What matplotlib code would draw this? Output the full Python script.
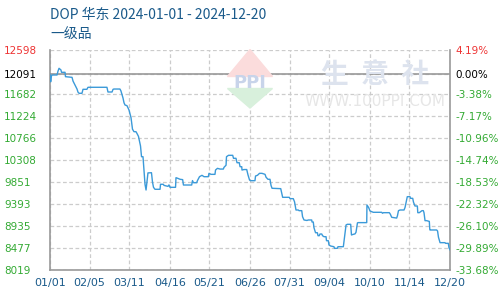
import matplotlib
matplotlib.use("Agg")
import matplotlib.pyplot as plt
from matplotlib.patches import Polygon

plt.rcParams['font.family'] = ['DejaVu Sans', 'Noto Sans CJK SC']

# ------------------------------
# data (days since 2024-01-01, price)
# ------------------------------
days = [0, 0.6, 1.3, 1.8, 6.2, 7.1, 8.0, 8.9, 9.7, 10.2, 13.3, 13.7, 19.5, 20.4,
        22.1, 23.9, 24.8, 25.7, 28.3, 29.2, 32.7, 33.6, 50.4, 51.3, 54.9, 55.8,
        56.6, 61.9, 62.8, 64.6, 65.5, 66.4, 68.1, 69.9, 71.7, 73.0, 74.3, 76.1,
        77.0, 78.3, 80.1, 81.0, 82.3, 83.2, 84.1, 85.0, 85.8, 86.7, 89.8, 90.7,
        91.6, 92.9, 97.4, 97.8, 100.3, 100.9, 104.4, 105.3, 106.2, 111.1, 111.5,
        112.8, 115.1, 117.4, 118.1, 125.4, 126.1, 127.0, 129.8, 130.5, 132.3,
        134.5, 136.3, 140.1, 140.7, 142.5, 146.0, 146.5, 148.2, 150.5, 153.4,
        154.0, 155.8, 156.2, 158.0, 161.7, 162.4, 164.6, 165.5, 167.5, 168.2,
        169.7, 169.9, 171.7, 174.1, 175.2, 176.6, 177.6, 181.4, 181.9, 183.6,
        185.4, 187.6, 190.3, 191.2, 192.9, 194.7, 195.6, 196.5, 204.2, 204.9,
        205.9, 211.8, 212.4, 215.3, 216.4, 217.7, 219.7, 220.4, 222.8, 223.5,
        224.8, 227.4, 228.6, 231.6, 231.9, 233.0, 233.6, 235.0, 236.6, 237.2,
        238.3, 238.9, 240.5, 241.2, 242.5, 244.3, 244.7, 246.3, 246.9, 248.4,
        251.3, 251.8, 254.3, 254.9, 259.6, 260.6, 262.0, 263.1, 266.1, 266.8,
        268.2, 269.9, 270.8, 272.1, 272.8, 280.3, 280.5, 281.7, 282.3, 283.2,
        286.1, 293.5, 294.3, 295.0, 300.3, 301.2, 302.4, 306.8, 307.5, 308.4,
        309.8, 313.3, 314.2, 315.1, 316.2, 318.6, 319.0, 321.0, 321.7, 323.0,
        325.1, 325.5, 326.8, 328.3, 329.2, 330.4, 331.0, 331.9, 333.4, 335.7,
        336.1, 336.3, 342.2, 343.0, 343.8, 345.2, 349.6, 350.0, 352.5, 353.1,
        354]
prices = [12091, 11938, 12060, 12078, 12078, 12160, 12217, 12200, 12182, 12134,
          12134, 12043, 12029, 11950, 11870, 11786, 11720, 11697, 11697, 11780,
          11780, 11822, 11822, 11724, 11724, 11780, 11786, 11786, 11745, 11600,
          11500, 11453, 11440, 11350, 11190, 10950, 10898, 10898, 10860, 10800,
          10600, 10377, 10377, 10100, 9800, 9684, 9850, 10040, 10044, 9850,
          9740, 9699, 9699, 9803, 9803, 9780, 9760, 9790, 9740, 9740, 9940,
          9930, 9907, 9900, 9788, 9788, 9880, 9836, 9836, 9880, 9961, 9990,
          9961, 9961, 10031, 10010, 10010, 10100, 10135, 10120, 10120, 10156,
          10200, 10377, 10406, 10406, 10344, 10344, 10252, 10252, 10169, 10169,
          10100, 10110, 10110, 10000, 9892, 9878, 9878, 9976, 9990, 10031,
          10031, 10010, 9950, 9907, 9907, 9780, 9720, 9712, 9640, 9532, 9532,
          9504, 9504, 9440, 9268, 9268, 9254, 9254, 9129, 9060, 9050, 9060,
          9060, 9018, 9018, 8900, 8795, 8795, 8733, 8733, 8768, 8768, 8733,
          8712, 8712, 8629, 8629, 8539, 8518, 8504, 8470, 8470, 8504, 8504,
          8700, 8956, 8970, 8970, 8748, 8760, 8770, 8803, 9000, 9005, 9005,
          9372, 9330, 9303, 9247, 9220, 9220, 9200, 9212, 9212, 9180, 9116,
          9100, 9150, 9254, 9268, 9268, 9320, 9420, 9545, 9545, 9511, 9511,
          9430, 9351, 9351, 9212, 9212, 9240, 9254, 9254, 9210, 9046, 9046,
          9030, 8866, 8852, 8852, 8830, 8700, 8588, 8588, 8574, 8574, 8480,
          8440]

base = 12091
y_ticks = [8019, 8477, 8935, 9393, 9851, 10308, 10766, 11224, 11682, 12091, 12598]
pct_labels = ['-33.68%', '-29.89%', '-26.10%', '-22.32%', '-18.53%', '-14.74%',
              '-10.96%', '-7.17%', '-3.38%', '0.00%', '4.19%']
x_ticks = [0, 35, 70, 106, 141, 177, 212, 247, 283, 318, 354]
x_labels = ['01/01', '02/05', '03/11', '04/16', '05/21', '06/26', '07/31',
            '09/04', '10/10', '11/14', '12/20']


def tick_color(v):
    if v > base:
        return '#ee3333'
    if v == base:
        return 'black'
    return '#33aa33'


# ------------------------------
# figure
# ------------------------------
fig = plt.figure(figsize=(5, 3), dpi=100)
ax = fig.add_axes([0.1, 0.1, 0.8, 0.7333])

ax.plot(days, prices, color='#3b9ad9', lw=1.0, zorder=3)
ax.axhline(base, color='#999999', lw=1.2, zorder=2)

ax.set_xlim(0, 354)
ax.set_ylim(8019, 12598)

ax.set_xticks(x_ticks)
ax.set_xticklabels(x_labels)
ax.set_yticks(y_ticks)
ax.set_yticklabels([str(v) for v in y_ticks])

ax.grid(True, color='#cccccc', linestyle=(0, (3, 2)), lw=0.9)
ax.tick_params(length=0)
ax.tick_params(axis='x', pad=6, labelsize=8, labelcolor='#1a5a8a')
ax.tick_params(axis='y', pad=33, labelsize=7.5)
for lab, v in zip(ax.get_yticklabels(), y_ticks):
    lab.set_horizontalalignment('left')
    lab.set_color(tick_color(v))

for side in ['left', 'right', 'bottom']:
    ax.spines[side].set_color('#999999')
    ax.spines[side].set_linewidth(1.2)
ax.spines['top'].set_visible(False)

# right axis percent labels
ax2 = ax.twinx()
ax2.set_ylim(ax.get_ylim())
ax2.set_yticks(y_ticks)
ax2.set_yticklabels(pct_labels)
ax2.tick_params(length=0, pad=4, labelsize=7.5)
for lab, v in zip(ax2.get_yticklabels(), y_ticks):
    lab.set_color(tick_color(v))
for s in ax2.spines.values():
    s.set_visible(False)

# watermark
fig.patches.append(Polygon([[0.50, 0.835], [0.545, 0.745], [0.455, 0.745]],
                           closed=True, transform=fig.transFigure,
                           color='#fbdcdc', zorder=0))
fig.patches.append(Polygon([[0.50, 0.64], [0.545, 0.705], [0.455, 0.705]],
                           closed=True, transform=fig.transFigure,
                           color='#d8f0dc', zorder=0))
fig.text(0.50, 0.725, 'PPI', ha='center', va='center', fontsize=13,
         color='#c8d4ea', fontweight='bold', zorder=1)
fig.text(0.75, 0.75, '生  意  社', ha='center', va='center', fontsize=20,
         color='#dde3ee', family=['Noto Sans CJK SC'], fontweight='bold', zorder=1)
fig.text(0.75, 0.66, 'WWW.100PPI.COM', ha='center', va='center', fontsize=11,
         color='#e6e6e6', zorder=1)

# titles
fig.text(0.1, 0.95, 'DOP 华东 2024-01-01 - 2024-12-20', ha='left', va='center',
         fontsize=10, color='#1a5a8a', family=['Noto Sans CJK SC', 'DejaVu Sans'])
fig.text(0.1, 0.885, '一级品', ha='left', va='center',
         fontsize=10, color='#1a5a8a', family=['Noto Sans CJK SC', 'DejaVu Sans'])

fig.savefig('out.png', dpi=100)
